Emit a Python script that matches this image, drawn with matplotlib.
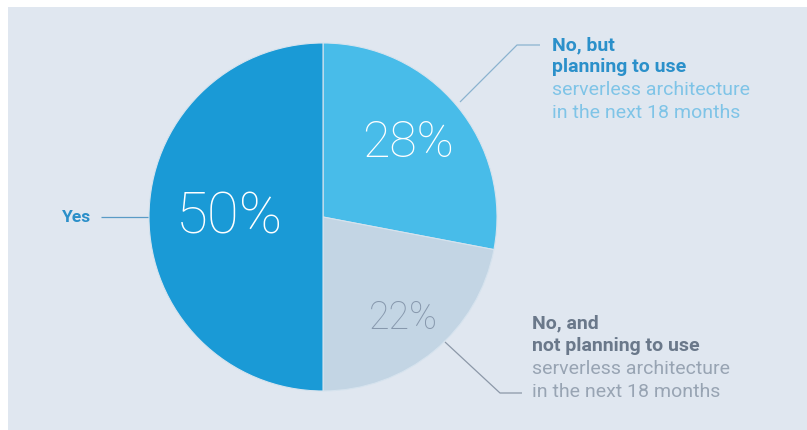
import numpy as np
import matplotlib
matplotlib.use("Agg")
import matplotlib.pyplot as plt
from matplotlib.patches import Rectangle

# slices, clockwise from 12 o'clock
labels = ["No, but planning to use", "No, and not planning to use", "Yes"]
shares = [28, 22, 50]
slice_colors = ["#48bce9", "#c3d5e4", "#1a9ad6"]
pct_colors = ["#ffffff", "#8798ad", "#ffffff"]

W, H = 807, 430
bg = "#e0e7f0"

fig = plt.figure(figsize=(W / 100, H / 100), dpi=100, facecolor="white")
ax = fig.add_axes([0, 0, 1, 1])

# light panel (thin white strip on top and left)
fig.patches.append(Rectangle((8 / W, -0.05), 1.1, 1.05 - 7 / H, transform=fig.transFigure,
                             facecolor=bg, edgecolor="none", zorder=-5))

cx, cy, r = 323, 213, 174
wedges, _ = ax.pie(shares, colors=slice_colors, startangle=90, counterclock=False,
                   center=(cx, cy), radius=r, frame=True,
                   wedgeprops=dict(edgecolor="#d6e3ee", linewidth=0.8))
ax.set_xlim(0, W)
ax.set_ylim(0, H)
ax.set_aspect("auto")
ax.patch.set_visible(False)
ax.axis("off")

pct_pos = [(408, 430 - 143), (403, 430 - 318), (229, 430 - 218)]
pct_size = [36, 27, 42]
for s, (x, y), c, fs in zip(shares, pct_pos, pct_colors, pct_size):
    ax.text(x, y, f"{s}%", color=c, fontsize=fs, ha="center", va="center",
            family="Roboto", fontweight="light")

# leader lines
line_kw = dict(lw=0.9, solid_capstyle="butt")
ax.plot([460, 517, 540], [430 - 102, 430 - 45, 430 - 45], color="#8ab3cf", **line_kw)
ax.plot([445, 500, 522], [430 - 342, 430 - 393, 430 - 393], color="#8c98a8", **line_kw)
ax.plot([101, 148], [430 - 217, 430 - 217], color="#5a9bc6", **line_kw)

ax.text(62, 430 - 217, "Yes", color="#2b8fc9", fontsize=12.5, fontweight="bold",
        family="Roboto", ha="left", va="center")

top_lines = [("No, but", True), ("planning to use", True),
             ("serverless architecture", False), ("in the next 18 months", False)]
for i, (t, b) in enumerate(top_lines):
    ax.text(552, 430 - (45 + 22.5 * i), t, fontsize=14,
            color="#2b90ca" if b else "#7fc4e7",
            fontweight="bold" if b else "normal", family="Roboto",
            ha="left", va="center")

bot_lines = [("No, and", True), ("not planning to use", True),
             ("serverless architecture", False), ("in the next 18 months", False)]
for i, (t, b) in enumerate(bot_lines):
    ax.text(532, 430 - (323 + 23 * i), t, fontsize=14,
            color="#6a788a" if b else "#98a4b3",
            fontweight="bold" if b else "normal", family="Roboto",
            ha="left", va="center")

fig.savefig("out.png", dpi=100, facecolor="white")
